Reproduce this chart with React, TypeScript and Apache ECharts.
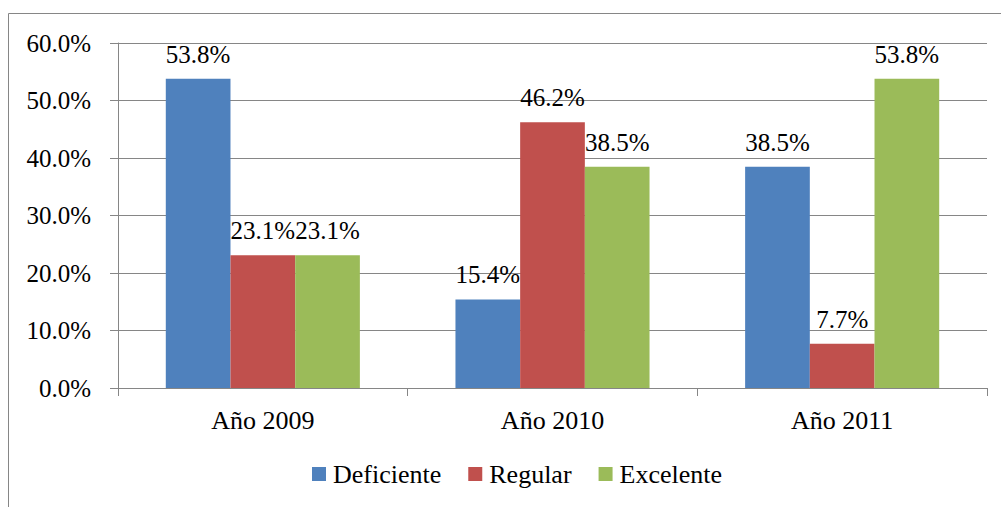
import React, { useEffect, useRef } from "react";
import * as echarts from "echarts";

const categories = ["Año 2009", "Año 2010", "Año 2011"];
const deficiente = [53.8, 15.4, 38.5];
const regular = [23.1, 46.2, 7.7];
const excelente = [23.1, 38.5, 53.8];
const seriesNames = ["Deficiente", "Regular", "Excelente"];
const colors = ["#4F81BD", "#C0504D", "#9BBB59"];

const FONT = "'Liberation Serif', 'Times New Roman', serif";
const FS = 26;
const FS_NUM = 25;

export default function App() {
  const ref = useRef<HTMLDivElement>(null);
  useEffect(() => {
    if (!ref.current) return;
    const chart = echarts.init(ref.current, undefined, { renderer: "svg" });
    const data = [deficiente, regular, excelente];
    chart.setOption({
      animation: false,
      backgroundColor: "#ffffff",
      textStyle: { fontFamily: FONT },
      graphic: [
        {
          type: "rect",
          shape: { x: 8.5, y: 13.5, width: 1100, height: 600 },
          style: { fill: "none", stroke: "#868686", lineWidth: 1 },
          silent: true,
        },
      ],
      grid: { left: 118, right: 14, top: 43, bottom: 119, containLabel: false },
      legend: {
        data: seriesNames,
        left: 307,
        top: 456,
        itemWidth: 14,
        itemHeight: 14,
        itemGap: 27,
        icon: "rect",
        textStyle: { fontFamily: FONT, fontSize: FS, color: "#000", padding: [0, 0, 0, 2] },
      },
      xAxis: {
        type: "category",
        data: categories,
        axisLine: { lineStyle: { color: "#868686", width: 1 } },
        axisTick: { show: true, length: 8, lineStyle: { color: "#868686" } },
        axisLabel: { fontFamily: FONT, fontSize: FS, color: "#000", margin: 19 },
      },
      yAxis: {
        type: "value",
        min: 0,
        max: 60,
        interval: 10,
        axisLine: { show: true, lineStyle: { color: "#868686", width: 1 } },
        axisTick: { show: true, length: 8, lineStyle: { color: "#868686" } },
        splitLine: { show: true, lineStyle: { color: "#868686", width: 1 } },
        axisLabel: {
          fontFamily: FONT,
          fontSize: FS_NUM,
          color: "#000",
          margin: 27,
          formatter: (v: number) => v.toFixed(1) + "%",
        },
      },
      series: seriesNames.map((name, i) => ({
        name,
        type: "bar",
        data: data[i],
        barGap: "0%",
        barCategoryGap: "33%",
        itemStyle: { color: colors[i] },
        label: {
          show: true,
          position: "top",
          distance: 12,
          fontFamily: FONT,
          fontSize: FS_NUM,
          color: "#000",
          formatter: (p: any) => p.value.toFixed(1) + "%",
        },
      })),
    });
    return () => chart.dispose();
  }, []);
  return (
    <div
      ref={ref}
      style={{ position: "fixed", left: 0, top: 0, width: 1001, height: 507 }}
    />
  );
}
